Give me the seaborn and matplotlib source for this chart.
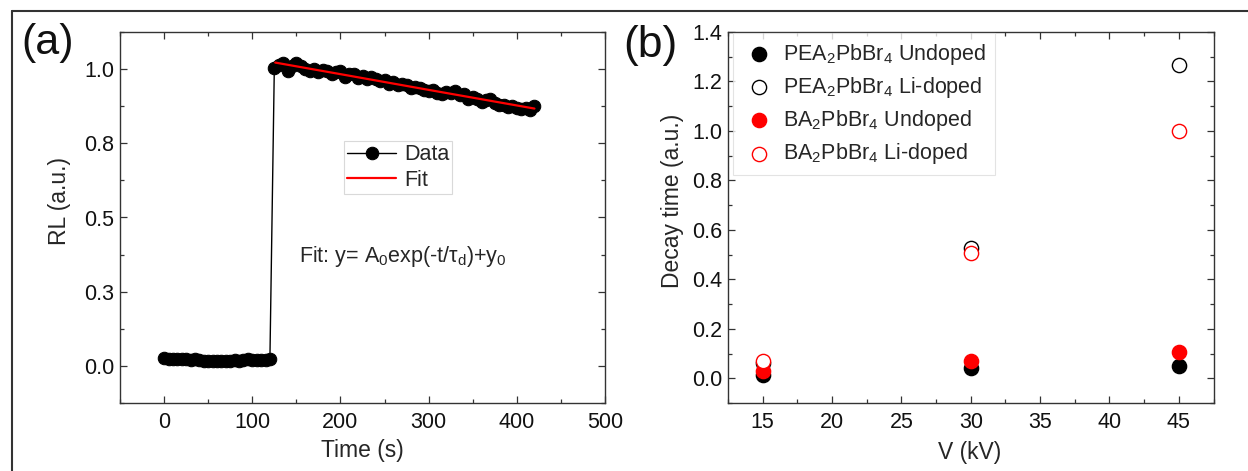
import matplotlib
matplotlib.use("Agg")
import matplotlib.pyplot as plt
import seaborn as sns
import pandas as pd
from matplotlib.lines import Line2D
from matplotlib.ticker import MultipleLocator

# ---- panel (a): RL response vs time ----
t_base = [0, 5, 10, 15, 20, 25, 30, 35, 40, 45, 50, 55, 60, 65, 70, 75, 80, 85,
          90, 95, 100, 105, 110, 115, 120]
rl_base = [0.025, 0.024, 0.022, 0.023, 0.024, 0.022, 0.021, 0.022, 0.020, 0.018,
           0.017, 0.018, 0.016, 0.017, 0.018, 0.017, 0.019, 0.018, 0.020, 0.022,
           0.021, 0.019, 0.021, 0.020, 0.022]
t_on = [125, 130, 135, 140, 145, 150, 155, 160, 165, 170, 175, 180, 185, 190, 195,
        200, 205, 210, 215, 220, 225, 230, 235, 240, 245, 250, 255, 260, 265, 270,
        275, 280, 285, 290, 295, 300, 305, 310, 315, 320, 325, 330, 335, 340, 345,
        350, 355, 360, 365, 370, 375, 380, 385, 390, 395, 400, 405, 410, 415, 420]
rl_on = [1.005, 1.015, 1.022, 0.995, 1.010, 1.020, 1.012, 1.000, 0.995, 1.002,
         0.990, 0.998, 0.995, 0.985, 0.990, 0.992, 0.975, 0.982, 0.985, 0.970,
         0.978, 0.965, 0.972, 0.968, 0.960, 0.962, 0.950, 0.955, 0.945, 0.950,
         0.945, 0.935, 0.940, 0.938, 0.930, 0.925, 0.928, 0.920, 0.915, 0.922,
         0.918, 0.925, 0.912, 0.915, 0.900, 0.905, 0.898, 0.890, 0.895, 0.900,
         0.885, 0.880, 0.878, 0.872, 0.875, 0.868, 0.865, 0.870, 0.862, 0.875]
t_fit = [126, 200, 300, 420]
rl_fit = [1.022, 0.983, 0.930, 0.867]
rl_ticks = [0.0, 0.25, 0.5, 0.75, 1.0]
rl_tick_labels = ["0.0", "0.3", "0.5", "0.8", "1.0"]
time_ticks = [0, 100, 200, 300, 400, 500]

# ---- panel (b): decay time vs voltage ----
voltage = [15, 30, 45]
pea_undoped = [0.015, 0.043, 0.048]
pea_li = [0.060, 0.526, 1.265]
ba_undoped = [0.030, 0.070, 0.108]
ba_li = [0.071, 0.506, 1.000]
series_labels = ["PEA$_2$PbBr$_4$ Undoped", "PEA$_2$PbBr$_4$ Li-doped",
                 "BA$_2$PbBr$_4$ Undoped", "BA$_2$PbBr$_4$ Li-doped"]
decay_ticks = [0.0, 0.2, 0.4, 0.6, 0.8, 1.0, 1.2, 1.4]
volt_ticks = [15, 20, 25, 30, 35, 40, 45]

TXT = 15.5
LBL = 16.5

sns.set_style("ticks")
plt.rcParams.update({
    "font.family": ["Liberation Sans", "DejaVu Sans"],
    "mathtext.fontset": "custom",
    "mathtext.rm": "Liberation Sans",
    "mathtext.it": "Liberation Sans:italic",
    "mathtext.bf": "Liberation Sans:bold",
    "xtick.direction": "in",
    "ytick.direction": "in",
    "xtick.top": True,
    "ytick.right": True,
    "xtick.major.size": 5,
    "ytick.major.size": 5,
    "xtick.minor.size": 3,
    "ytick.minor.size": 3,
    "xtick.major.width": 0.9,
    "ytick.major.width": 0.9,
    "xtick.minor.width": 0.9,
    "ytick.minor.width": 0.9,
    "axes.edgecolor": "#333333",
    "axes.linewidth": 1.0,
    "xtick.color": "#333333",
    "ytick.color": "#333333",
    "xtick.labelcolor": "#111111",
    "ytick.labelcolor": "#111111",
    "xtick.labelsize": TXT,
    "ytick.labelsize": TXT,
    "xtick.major.pad": 6.5,
    "ytick.major.pad": 4,
})

W, H = 1248, 471
fig = plt.figure(figsize=(W / 100, H / 100), dpi=100)
ax_a = fig.add_axes([120 / W, 1 - 403 / H, 485 / W, 371 / H])
ax_b = fig.add_axes([728 / W, 1 - 403 / H, 485.5 / W, 371 / H])

# panel (a)
df_a = pd.DataFrame({"t": t_base + t_on, "rl": rl_base + rl_on})
sns.lineplot(data=df_a, x="t", y="rl", ax=ax_a, estimator=None, sort=False,
             color="black", linewidth=1.0, marker="o", markersize=9,
             markeredgecolor="black", markerfacecolor="black", label="Data")
df_fit = pd.DataFrame({"t": t_fit, "rl": rl_fit})
sns.lineplot(data=df_fit, x="t", y="rl", ax=ax_a, estimator=None, sort=False,
             color="#ff0000", linewidth=1.6, label="Fit")
ax_a.set_xlim(-50, 500)
ax_a.set_ylim(-0.125, 1.125)
ax_a.set_xticks(time_ticks)
ax_a.xaxis.set_minor_locator(MultipleLocator(50))
ax_a.set_yticks(rl_ticks, rl_tick_labels)
ax_a.yaxis.set_minor_locator(MultipleLocator(0.125))
ax_a.set_xlabel("Time (s)", fontsize=LBL)
ax_a.set_ylabel("RL (a.u.)", fontsize=LBL)
ax_a.xaxis.set_label_coords(0.5, -0.097)
ax_a.yaxis.set_label_coords(-0.101, 0.545)
ax_a.text(0.369, 0.394, r"Fit: y= A$_0$exp(-t/τ$_\mathrm{d}$)+y$_0$",
          transform=ax_a.transAxes, ha="left", va="center", fontsize=TXT)
leg_a = ax_a.legend(loc="center", bbox_to_anchor=(0.573, 0.635), fontsize=TXT,
                    frameon=True, fancybox=False, borderpad=0.15,
                    handlelength=2.3, handletextpad=0.35, labelspacing=0.2,
                    borderaxespad=0)
leg_a.get_frame().set_edgecolor("#d0d0d0")
leg_a.get_frame().set_linewidth(0.8)

# panel (b)
styles = [
    (pea_undoped, "black", "black"),
    (pea_li, "white", "black"),
    (ba_undoped, "#ff0000", "#ff0000"),
    (ba_li, "white", "#ff0000"),
]
for (vals, face, edge), lab in zip(styles, series_labels):
    sns.scatterplot(x=voltage, y=vals, ax=ax_b, marker="o", s=105,
                    facecolor=face, edgecolor=edge, linewidth=1.0, label=lab,
                    zorder=3)
ax_b.set_xlim(12.5, 47.5)
ax_b.set_ylim(-0.1, 1.4)
ax_b.set_xticks(volt_ticks)
ax_b.xaxis.set_minor_locator(MultipleLocator(2.5))
ax_b.set_yticks(decay_ticks, [f"{v:.1f}" for v in decay_ticks])
ax_b.yaxis.set_minor_locator(MultipleLocator(0.1))
ax_b.set_xlabel("V (kV)", fontsize=LBL)
ax_b.set_ylabel("Decay time (a.u.)", fontsize=LBL)
ax_b.xaxis.set_label_coords(0.498, -0.102)
ax_b.yaxis.set_label_coords(-0.091, 0.545)
leg_b = ax_b.legend(loc="upper left", bbox_to_anchor=(0.01, 0.997), fontsize=TXT,
                    frameon=True, fancybox=False, borderpad=0.4,
                    handlelength=1.6, handletextpad=0.35, labelspacing=0.38,
                    borderaxespad=0)
leg_b.get_frame().set_edgecolor("#dddddd")
leg_b.get_frame().set_linewidth(0.8)

for ax in (ax_a, ax_b):
    for sp in ax.spines.values():
        sp.set_visible(True)

# panel letters
fig.text(21 / W, 1 - 43 / H, "(a)", fontsize=31, ha="left", va="center", color="#111111")
fig.text(623 / W, 1 - 46 / H, "(b)", fontsize=32, ha="left", va="center", color="#111111")

# outer frame (left and top edges)
fig.add_artist(Line2D([12 / W, 12 / W], [0, 1 - 11 / H], transform=fig.transFigure,
                      color="#333333", linewidth=1.5))
fig.add_artist(Line2D([12 / W, 1], [1 - 11 / H, 1 - 11 / H], transform=fig.transFigure,
                      color="#333333", linewidth=1.5))

fig.savefig("out.png", dpi=100, facecolor="white")
